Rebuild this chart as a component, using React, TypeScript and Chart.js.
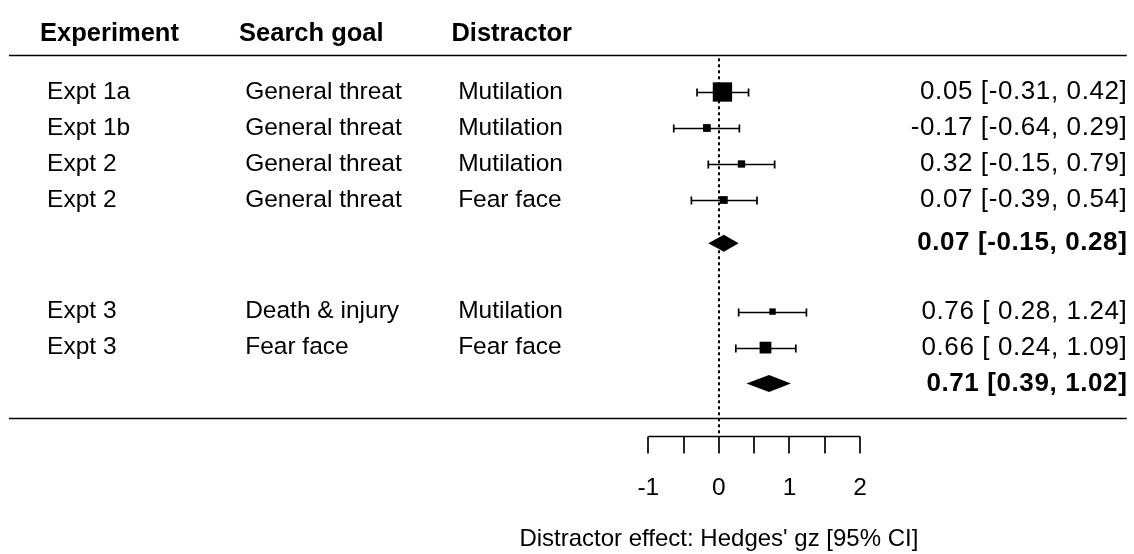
import { useEffect, useRef } from "react";
import { Chart, registerables } from "chart.js";

Chart.register(...registerables);

// ---------- data ----------
const headers = ["Experiment", "Search goal", "Distractor"];
const experiments = ["Expt 1a", "Expt 1b", "Expt 2", "Expt 2", "Expt 3", "Expt 3"];
const searchGoals = ["General threat", "General threat", "General threat", "General threat", "Death & injury", "Fear face"];
const distractors = ["Mutilation", "Mutilation", "Mutilation", "Fear face", "Mutilation", "Fear face"];
const estimates = [0.05, -0.17, 0.32, 0.07, 0.76, 0.66];
const ciLower = [-0.31, -0.64, -0.15, -0.39, 0.28, 0.24];
const ciUpper = [0.42, 0.29, 0.79, 0.54, 1.24, 1.09];
const studyRows = [1, 2, 3, 4, 7.1, 8.1];
const summaryEst = [0.07, 0.71];
const summaryLower = [-0.15, 0.39];
const summaryUpper = [0.28, 1.02];
const summaryRows = [5.2, 9.1];
const axisTicks = [-1, -0.5, 0, 0.5, 1, 1.5, 2];
const axisTickLabels = ["-1", "", "0", "", "1", "", "2"];
const axisTitle = "Distractor effect: Hedges' gz [95% CI]";

// ---------- layout constants (not data) ----------
const W = 1134;
const H = 554;
const X_MIN = -10.187;
const X_MAX = 5.882;
const Y_MIN = -1.5556;
const Y_MAX = 13.8333;
const FONT = '"Liberation Sans", Arial, Helvetica, sans-serif';
const FS = 24.5;
const colX = [-9.52, -6.713, -3.695];
const headX = [-9.62, -6.8, -3.79];
const annotX = 5.78;
const lineLeftX = -10.06;
const headerRow = -0.6;
const topLineRow = -0.02;
const bottomLineRow = 10.05;
const axisRow = 10.55;

const fmt = (v: number) => v.toFixed(2);
const studyLabels = estimates.map(
  (e, i) => `${fmt(e)} [${ciLower[i] >= 0 ? " " : ""}${fmt(ciLower[i])}, ${fmt(ciUpper[i])}]`
);
const summaryLabels = summaryEst.map(
  (e, i) => `${fmt(e)} [${fmt(summaryLower[i])}, ${fmt(summaryUpper[i])}]`
);

// box sizes from precision (like metafor psize)
const prec = ciLower.map((lo, i) => 1 / (ciUpper[i] - lo));
const pMin = Math.min(...prec);
const pMax = Math.max(...prec);
const boxSide = prec.map((p) => 12.9 * (0.5 + (p - pMin) / (pMax - pMin)));

const forestPlugin = {
  id: "forest",
  beforeDatasetsDraw(chart: any) {
    const { ctx } = chart;
    const xs = chart.scales.x;
    const ys = chart.scales.y;
    const px = (v: number) => xs.getPixelForValue(v);
    const py = (v: number) => ys.getPixelForValue(v);
    ctx.save();
    ctx.fillStyle = "#fff";
    ctx.fillRect(0, 0, W, H);
    ctx.strokeStyle = "#000";
    ctx.fillStyle = "#000";

    // horizontal rules
    ctx.lineWidth = 1.5;
    ctx.beginPath();
    ctx.moveTo(px(lineLeftX), Math.round(py(topLineRow)) + 0.5);
    ctx.lineTo(px(annotX), Math.round(py(topLineRow)) + 0.5);
    ctx.moveTo(px(lineLeftX), Math.round(py(bottomLineRow)) + 0.5);
    ctx.lineTo(px(annotX), Math.round(py(bottomLineRow)) + 0.5);
    ctx.stroke();

    // reference line at 0
    ctx.lineWidth = 2;
    ctx.setLineDash([3, 3]);
    ctx.beginPath();
    ctx.moveTo(Math.round(px(0)), py(topLineRow) + 3);
    ctx.lineTo(Math.round(px(0)), py(axisRow));
    ctx.stroke();
    ctx.setLineDash([]);

    // CI lines with caps
    ctx.lineWidth = 1.7;
    estimates.forEach((_, i) => {
      const y = Math.round(py(studyRows[i])) + 0.5;
      const x1 = px(ciLower[i]);
      const x2 = px(ciUpper[i]);
      ctx.beginPath();
      ctx.moveTo(x1, y);
      ctx.lineTo(x2, y);
      ctx.moveTo(x1, y - 4);
      ctx.lineTo(x1, y + 4);
      ctx.moveTo(x2, y - 4);
      ctx.lineTo(x2, y + 4);
      ctx.stroke();
    });

    // summary diamonds
    summaryEst.forEach((e, i) => {
      const y = py(summaryRows[i]);
      ctx.beginPath();
      ctx.moveTo(px(summaryLower[i]), y);
      ctx.lineTo(px(e), y - 8.5);
      ctx.lineTo(px(summaryUpper[i]), y);
      ctx.lineTo(px(e), y + 8.5);
      ctx.closePath();
      ctx.fill();
    });

    // axis
    const ay = Math.round(py(axisRow)) + 0.5;
    ctx.lineWidth = 1.7;
    ctx.beginPath();
    ctx.moveTo(px(axisTicks[0]), ay);
    ctx.lineTo(px(axisTicks[axisTicks.length - 1]), ay);
    axisTicks.forEach((t) => {
      ctx.moveTo(Math.round(px(t)), ay);
      ctx.lineTo(Math.round(px(t)), ay + 17);
    });
    ctx.stroke();

    // texts
    ctx.textBaseline = "middle";
    ctx.font = `bold 25.5px ${FONT}`;
    ctx.textAlign = "left";
    headers.forEach((h, i) => ctx.fillText(h, px(headX[i]), py(headerRow)));

    ctx.font = `${FS}px ${FONT}`;
    estimates.forEach((_, i) => {
      const y = py(studyRows[i]);
      ctx.textAlign = "left";
      ctx.fillText(experiments[i], px(colX[0]), y);
      ctx.fillText(searchGoals[i], px(colX[1]), y);
      ctx.fillText(distractors[i], px(colX[2]), y);
    });

    // right annotations
    ctx.letterSpacing = "0.6px";
    ctx.textAlign = "right";
    ctx.font = `26px ${FONT}`;
    estimates.forEach((_, i) => {
      ctx.fillText(studyLabels[i], px(annotX) + 0.6, py(studyRows[i]));
    });
    ctx.font = `bold 26px ${FONT}`;
    summaryLabels.forEach((s, i) => ctx.fillText(s, px(annotX) + 0.6, py(summaryRows[i])));
    ctx.letterSpacing = "0px";

    ctx.font = `24.5px ${FONT}`;
    ctx.textAlign = "center";
    axisTicks.forEach((t, i) => {
      if (axisTickLabels[i]) ctx.fillText(axisTickLabels[i], px(t), ay + 52);
    });
    ctx.font = `24px ${FONT}`;
    ctx.fillText(axisTitle, px(0), ay + 103);
    ctx.restore();
  },
};

export default function App() {
  const ref = useRef<HTMLCanvasElement | null>(null);
  useEffect(() => {
    document.body.style.margin = "0";
    const canvas = ref.current!;
    const chart = new Chart(canvas, {
      type: "scatter",
      data: {
        datasets: [
          {
            label: "Studies",
            data: estimates.map((e, i) => ({ x: e, y: studyRows[i] })),
            pointStyle: "rect",
            backgroundColor: "#000",
            borderColor: "#000",
            borderWidth: 0,
            pointRadius: (c: any) => (boxSide[c.dataIndex] ?? 7) / (2 * Math.SQRT1_2),
          },
        ],
      },
      options: {
        responsive: false,
        animation: false,
        events: [],
        layout: { padding: 0, autoPadding: false },
        plugins: { legend: { display: false }, tooltip: { enabled: false } },
        scales: {
          x: { type: "linear", min: X_MIN, max: X_MAX, display: false },
          y: { type: "linear", min: Y_MIN, max: Y_MAX, reverse: true, display: false },
        },
      },
      plugins: [forestPlugin],
    });
    return () => chart.destroy();
  }, []);
  return (
    <div style={{ width: W, height: H, background: "#fff" }}>
      <canvas ref={ref} width={W} height={H} style={{ display: "block" }} />
    </div>
  );
}
